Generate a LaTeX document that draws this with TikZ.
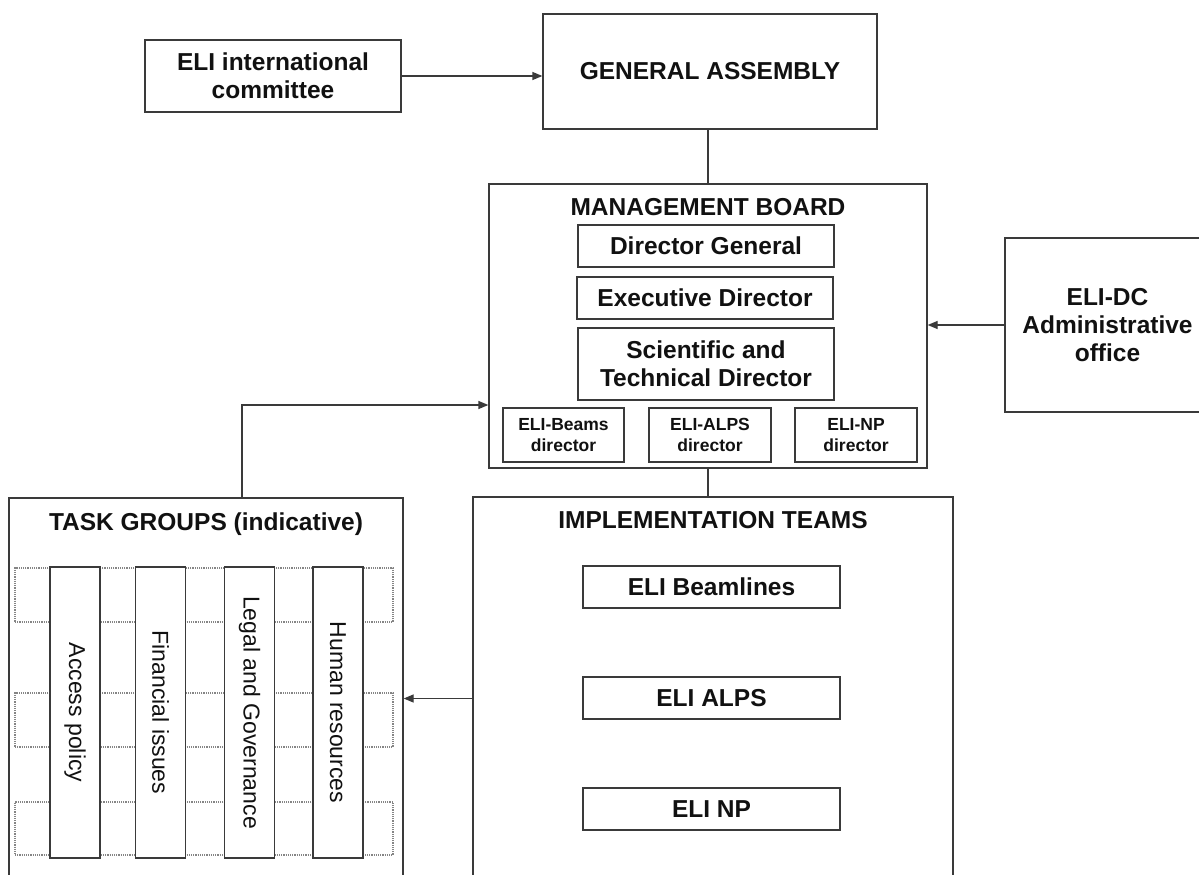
\documentclass[tikz,border=0pt]{standalone}
\usepackage{fontspec}
\setmainfont{Liberation Sans}
\usetikzlibrary{arrows.meta}
\definecolor{lc}{HTML}{3A3A3A}
\definecolor{tc}{HTML}{111111}
\definecolor{dc}{HTML}{858585}
\tikzset{
  box/.style={draw=lc, line width=1.3pt, fill=white, inner sep=0pt, align=center,
    text=tc, font=\bfseries\fontsize{24.5}{28}\selectfont},
  smallbox/.style={box, font=\bfseries\fontsize{17.5}{20.7}\selectfont},
  frame/.style={draw=lc, line width=1.3pt, inner sep=0pt},
  title/.style={anchor=base, inner sep=0pt, text=tc, font=\bfseries\fontsize{24.5}{28}\selectfont},
  bar/.style={draw=lc, line width=1.4pt, fill=white, inner sep=0pt, rotate=-90,
    minimum width=291pt, minimum height=50pt, text=tc, font=\fontsize{23}{27}\selectfont},
  dotrow/.style={draw=dc, line width=1.2pt, densely dotted, inner sep=0pt,
    minimum width=378pt},
  ln/.style={draw=lc, line width=1.3pt},
  arr/.style={ln, -{Triangle[length=10pt,width=8pt]}},
}
\begin{document}
\begin{tikzpicture}[x=1pt,y=-1pt]
\useasboundingbox (0,0) rectangle (1199,875);
\clip (0,0) rectangle (1199,875);
\fill[white] (0,0) rectangle (1199,875);

% top row
\node[box, minimum width=256pt, minimum height=72pt] (intl) at (273,76) {ELI international\\committee};
\node[box, minimum width=334pt, minimum height=115pt] (ga) at (710,71.5) {GENERAL ASSEMBLY};

% management board
\node[frame, minimum width=438pt, minimum height=284pt] (mb) at (708,326) {};
\node[title] (mbt) at (708,215) {MANAGEMENT BOARD};
\node[box, minimum width=256pt, minimum height=42pt] (dg) at (706,246) {Director General};
\node[box, minimum width=256pt, minimum height=42pt] (ed) at (705,298) {Executive Director};
\node[box, minimum width=256pt, minimum height=72pt] (std) at (706,364) {Scientific and\\Technical Director};
\node[smallbox, minimum width=121pt, minimum height=54pt] (dbeams) at (563.5,435) {ELI-Beams\\director};
\node[smallbox, minimum width=122pt, minimum height=54pt] (dalps) at (710,435) {ELI-ALPS\\director};
\node[smallbox, minimum width=122pt, minimum height=54pt] (dnp) at (856,435) {ELI-NP\\director};

% ELI-DC
\node[box, minimum width=205pt, minimum height=174pt] (dcbox) at (1107.5,325) {ELI-DC\\Administrative\\office};

% implementation teams
\node[frame, minimum width=480pt, minimum height=403pt] (it) at (713,698.5) {};
\node[title] (itt) at (713,528) {IMPLEMENTATION TEAMS};
\node[box, minimum width=257pt, minimum height=42pt] (eb) at (711.5,587) {ELI Beamlines};
\node[box, minimum width=257pt, minimum height=42pt] (ea) at (711.5,698) {ELI ALPS};
\node[box, minimum width=257pt, minimum height=42pt] (en) at (711.5,809) {ELI NP};

% task groups
\node[frame, minimum width=394pt, minimum height=402pt] (tg) at (206,699) {};
\node[title] (tgt) at (206,530) {TASK GROUPS (indicative)};
\node[dotrow, minimum height=54pt] (row1) at (204,595) {};
\node[dotrow, minimum height=54pt] (row2) at (204,720) {};
\node[dotrow, minimum height=53pt] (row3) at (204,828.5) {};
\node[bar] (bar1) at (75,712.5) {Access policy};
\node[bar] (bar2) at (160.5,712.5) {Financial issues};
\node[bar] (bar3) at (249.5,712.5) {Legal and Governance};
\node[bar] (bar4) at (338,712.5) {Human resources};

% connectors
\coordinate (tgup) at ([xshift=36pt]tg.north);
\coordinate (mbin) at ([yshift=-79pt]mb.west);
\draw[arr] (intl.east) -- (intl.east -| ga.west);
\draw[ln] (ga.south -| mb.north) -- (mb.north);
\draw[arr] (dcbox.west) -- (dcbox.west -| mb.east);
\draw[ln] (mb.south) -- (mb.south |- it.north);
\draw[arr] (it.west) -- (it.west -| tg.east);
\draw[arr] (tgup) |- (mbin);
\end{tikzpicture}
\end{document}
